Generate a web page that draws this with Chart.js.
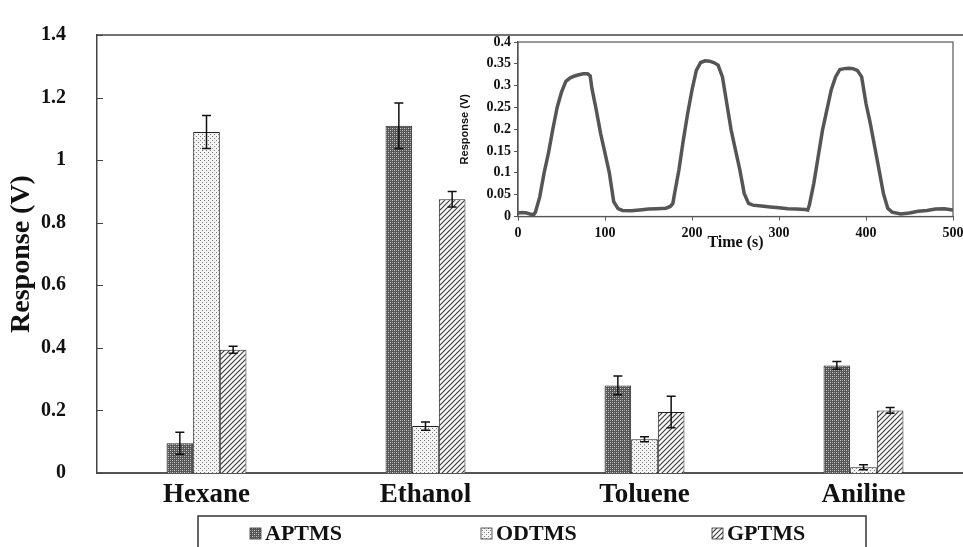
<!DOCTYPE html>
<html>
<head>
<meta charset="utf-8">
<script src="https://cdn.jsdelivr.net/npm/chart.js@4/dist/chart.umd.min.js"></script>
<style>
  html, body { margin: 0; padding: 0; background: #fff; overflow: hidden; }
  #wrap { position: relative; width: 963px; height: 547px; overflow: hidden; }
  #main { position: absolute; left: 0; top: 0; }
  #inset { position: absolute; left: 440px; top: 30px; }
</style>
</head>
<body>
<div id="wrap">
  <canvas id="main" width="975" height="547"></canvas>
  <canvas id="inset" width="535" height="225"></canvas>
</div>
<script>
// DADOS DO GRÁFICO PRINCIPAL
const categorias = ["Hexane", "Ethanol", "Toluene", "Aniline"];
const aptms = [0.095, 1.11, 0.28, 0.344];
const odtms = [1.09, 0.15, 0.108, 0.018];
const gptms = [0.394, 0.875, 0.195, 0.2];
const aptmsErro = [0.035, 0.073, 0.03, 0.012];
const odtmsErro = [0.053, 0.013, 0.008, 0.008];
const gptmsErro = [0.011, 0.025, 0.05, 0.009];
const ticksY = [0, 0.2, 0.4, 0.6, 0.8, 1, 1.2, 1.4];

// DADOS DO GRÁFICO INSERIDO (resposta x tempo)
const tempo = [0, 5, 10, 15, 18, 20, 25, 30, 35, 40, 45, 50, 55, 60, 65, 70, 75, 80, 83, 85, 90, 95, 100, 105, 110, 115, 120, 130, 140, 150, 160, 170, 175, 178, 180, 185, 190, 195, 200, 205, 210, 215, 220, 225, 230, 235, 240, 245, 250, 255, 260, 265, 270, 280, 290, 300, 310, 320, 330, 333, 335, 340, 345, 350, 355, 360, 365, 370, 375, 380, 385, 390, 395, 400, 405, 410, 415, 420, 425, 430, 440, 450, 460, 470, 480, 490, 500];
const resposta = [0.008, 0.009, 0.008, 0.005, 0.004, 0.01, 0.045, 0.1, 0.145, 0.2, 0.25, 0.285, 0.31, 0.318, 0.322, 0.325, 0.327, 0.327, 0.322, 0.293, 0.244, 0.19, 0.145, 0.1, 0.034, 0.018, 0.014, 0.013, 0.015, 0.017, 0.018, 0.019, 0.023, 0.03, 0.053, 0.107, 0.175, 0.236, 0.29, 0.335, 0.353, 0.357, 0.356, 0.353, 0.347, 0.32, 0.259, 0.198, 0.152, 0.107, 0.053, 0.03, 0.026, 0.024, 0.022, 0.02, 0.018, 0.017, 0.016, 0.015, 0.027, 0.076, 0.137, 0.198, 0.244, 0.29, 0.32, 0.337, 0.339, 0.34, 0.339, 0.335, 0.32, 0.259, 0.213, 0.16, 0.107, 0.053, 0.019, 0.01, 0.006, 0.008, 0.012, 0.014, 0.017, 0.018, 0.015];
const ticksTempo = [0, 100, 200, 300, 400, 500];
const ticksResposta = [0, 0.05, 0.1, 0.15, 0.2, 0.25, 0.3, 0.35, 0.4];

const serif = "'Liberation Serif', 'Times New Roman', serif";
const rotulo = (v) => String(v);

// PADRÕES DAS BARRAS
function padrao(tam, desenhar) {
  const c = document.createElement("canvas");
  c.width = tam;
  c.height = tam;
  const g = c.getContext("2d");
  desenhar(g);
  return g.createPattern(c, "repeat");
}

const ctxMain = document.getElementById("main").getContext("2d");

const padraoAptms = padrao(4, (g) => {
  g.fillStyle = "#555";
  g.fillRect(0, 0, 4, 4);
  g.fillStyle = "#d0d0d0";
  g.fillRect(0, 0, 1, 1);
  g.fillRect(2, 2, 1, 1);
  g.fillStyle = "#999";
  g.fillRect(2, 0, 1, 1);
  g.fillRect(0, 2, 1, 1);
});

const padraoOdtms = padrao(4, (g) => {
  g.fillStyle = "#f4f4f4";
  g.fillRect(0, 0, 4, 4);
  g.fillStyle = "#7a7a7a";
  g.fillRect(0, 0, 1, 1);
  g.fillRect(2, 2, 1, 1);
});

const padraoGptms = padrao(5, (g) => {
  g.fillStyle = "#fafafa";
  g.fillRect(0, 0, 5, 5);
  g.strokeStyle = "#3a3a3a";
  g.lineWidth = 1.1;
  g.beginPath();
  g.moveTo(-1, 6);
  g.lineTo(6, -1);
  g.moveTo(-1, 1);
  g.lineTo(1, -1);
  g.moveTo(4, 6);
  g.lineTo(6, 4);
  g.stroke();
});

const erros = [aptmsErro, odtmsErro, gptmsErro];

// PLUGIN: barras de erro, ticks internos, borda de cima e legenda
const extrasPrincipal = {
  id: "extrasPrincipal",
  afterDatasetsDraw(chart) {
    const ctx = chart.ctx;
    const y = chart.scales.y;
    ctx.save();
    ctx.strokeStyle = "#111";
    ctx.lineWidth = 1.5;
    chart.data.datasets.forEach((ds, i) => {
      const meta = chart.getDatasetMeta(i);
      meta.data.forEach((bar, j) => {
        const v = ds.data[j];
        const e = erros[i][j];
        const yt = y.getPixelForValue(v + e);
        const yb = y.getPixelForValue(Math.max(0, v - e));
        ctx.beginPath();
        ctx.moveTo(bar.x, yt);
        ctx.lineTo(bar.x, yb);
        ctx.moveTo(bar.x - 4.5, yt);
        ctx.lineTo(bar.x + 4.5, yt);
        ctx.moveTo(bar.x - 4.5, yb);
        ctx.lineTo(bar.x + 4.5, yb);
        ctx.stroke();
      });
    });
    ctx.restore();
  },
  afterDraw(chart) {
    const ctx = chart.ctx;
    const area = chart.chartArea;
    const y = chart.scales.y;
    ctx.save();
    ctx.strokeStyle = "#444";
    ctx.lineWidth = 1.5;
    ctx.beginPath();
    ctx.moveTo(area.left, area.top);
    ctx.lineTo(area.right, area.top);
    ctx.stroke();
    ctx.lineWidth = 1;
    y.ticks.forEach((t) => {
      const py = Math.round(y.getPixelForValue(t.value)) + 0.5;
      ctx.beginPath();
      ctx.moveTo(area.left, py);
      ctx.lineTo(area.left + 6, py);
      ctx.stroke();
    });

    // legenda com caixa
    ctx.strokeStyle = "#333";
    ctx.lineWidth = 1.5;
    ctx.strokeRect(198, 516, 668, 60);
    const posX = [250, 481, 712];
    ctx.font = "bold 22px " + serif;
    ctx.textBaseline = "middle";
    chart.data.datasets.forEach((ds, i) => {
      ctx.fillStyle = ds.backgroundColor;
      ctx.fillRect(posX[i], 528, 11, 11);
      ctx.strokeStyle = "#333";
      ctx.lineWidth = 0.8;
      ctx.strokeRect(posX[i], 528, 11, 11);
      ctx.fillStyle = "#111";
      ctx.fillText(ds.label, posX[i] + 15, 534);
    });
    ctx.restore();
  },
};

new Chart(ctxMain, {
  type: "bar",
  data: {
    labels: categorias,
    datasets: [
      { label: "APTMS", data: aptms, backgroundColor: padraoAptms },
      { label: "ODTMS", data: odtms, backgroundColor: padraoOdtms },
      { label: "GPTMS", data: gptms, backgroundColor: padraoGptms },
    ].map((d) => ({ ...d, borderColor: "#222", borderWidth: 1, categoryPercentage: 0.365, barPercentage: 1 })),
  },
  options: {
    responsive: false,
    devicePixelRatio: 1,
    animation: false,
    layout: { padding: { top: 25, right: 2, left: 0, bottom: 0 } },
    plugins: { legend: { display: false }, tooltip: { enabled: false } },
    scales: {
      x: {
        grid: { display: false },
        border: { color: "#555", width: 2 },
        ticks: { color: "#111", font: { family: serif, size: 27, weight: "bold" }, padding: -2 },
        afterFit: (s) => { s.height = 74; },
      },
      y: {
        min: 0,
        max: 1.4,
        afterBuildTicks: (s) => { s.ticks = ticksY.map((v) => ({ value: v })); },
        grid: { display: false },
        border: { color: "#444", width: 1.5 },
        ticks: { color: "#111", font: { family: serif, size: 20, weight: "bold" }, padding: 23, callback: rotulo },
        title: {
          display: true,
          text: "Response (V)",
          color: "#111",
          font: { family: serif, size: 28, weight: "bold" },
          padding: { top: 5 },
        },
        afterFit: (s) => { s.width = 97; },
      },
    },
  },
  plugins: [extrasPrincipal],
});

// GRÁFICO INSERIDO
const moldura = {
  id: "moldura",
  afterDraw(chart) {
    const a = chart.chartArea;
    const ctx = chart.ctx;
    ctx.save();
    ctx.strokeStyle = "#555";
    ctx.lineWidth = 1.2;
    ctx.strokeRect(a.left, a.top, a.right - a.left, a.bottom - a.top);
    ctx.restore();
  },
};

new Chart(document.getElementById("inset"), {
  type: "line",
  data: {
    datasets: [
      {
        data: tempo.map((t, i) => ({ x: t, y: resposta[i] })),
        borderColor: "#555",
        borderWidth: 3.5,
        pointRadius: 0,
        tension: 0,
      },
    ],
  },
  options: {
    responsive: false,
    devicePixelRatio: 1,
    animation: false,
    layout: { padding: { top: 12, right: 22, left: 0, bottom: 0 } },
    plugins: { legend: { display: false }, tooltip: { enabled: false } },
    scales: {
      x: {
        type: "linear",
        min: 0,
        max: 500,
        afterBuildTicks: (s) => { s.ticks = ticksTempo.map((v) => ({ value: v })); },
        grid: { drawOnChartArea: false, tickLength: 4, color: "#555" },
        border: { color: "#555", width: 1.2 },
        ticks: { color: "#111", font: { family: serif, size: 14, weight: "bold" }, padding: 4, maxRotation: 0, callback: rotulo },
        title: {
          display: true,
          text: "Time (s)",
          color: "#111",
          font: { family: serif, size: 16, weight: "bold" },
          padding: { bottom: 3 },
        },
        afterFit: (s) => { s.height = 38.5; },
      },
      y: {
        min: 0,
        max: 0.4,
        afterBuildTicks: (s) => { s.ticks = ticksResposta.map((v) => ({ value: v })); },
        grid: { drawOnChartArea: false, tickLength: 4, color: "#555" },
        border: { color: "#555", width: 1.2 },
        ticks: { color: "#111", font: { family: serif, size: 14, weight: "bold" }, padding: 3, callback: rotulo },
        title: {
          display: true,
          text: "Response (V)",
          color: "#111",
          font: { family: "'Liberation Sans Narrow', 'Liberation Sans', sans-serif", size: 11, weight: "bold" },
          padding: { top: 18 },
        },
        afterFit: (s) => { s.width = 78; },
      },
    },
  },
  plugins: [moldura],
});
</script>
</body>
</html>
